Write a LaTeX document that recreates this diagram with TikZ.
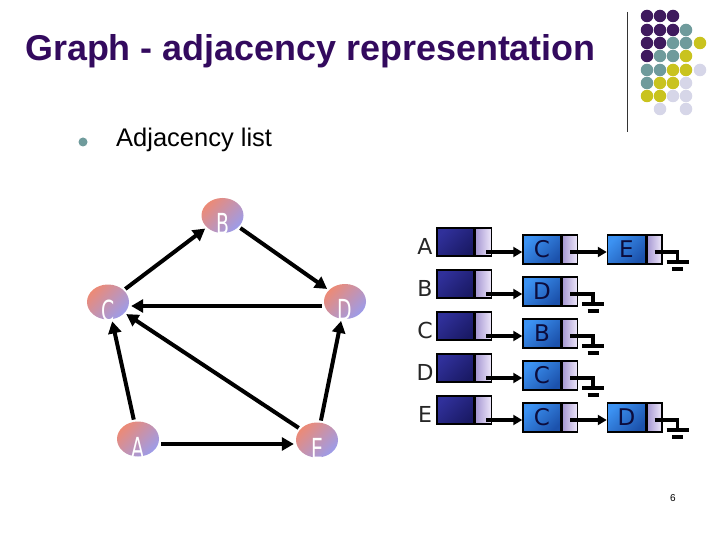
\documentclass[tikz,border=0pt]{standalone}
\usepackage{fontspec}
\setmainfont{Liberation Sans}
\newfontfamily\lettfont{DejaVu Sans}
\usetikzlibrary{shapes.geometric,arrows.meta}
\definecolor{titlepurple}{HTML}{330A5E}
\definecolor{dpurple}{HTML}{3F1A5E}
\definecolor{dteal}{HTML}{6F9B9C}
\definecolor{dyellow}{HTML}{C9C31E}
\definecolor{dlav}{HTML}{D6D6E8}
\definecolor{salmon}{HTML}{EC8A76}
\definecolor{pinklav}{HTML}{9C9CEA}
\definecolor{headtop}{HTML}{30309A}
\definecolor{headbot}{HTML}{1A1A66}
\definecolor{bluetop}{HTML}{3C92F2}
\definecolor{bluebot}{HTML}{1C52AC}
\definecolor{lavleft}{HTML}{A698D2}
\definecolor{lavright}{HTML}{EEE8FA}
\definecolor{navytext}{HTML}{0C0C3C}
\newcommand{\glet}[1]{\smash{\raisebox{-19pt}{\scalebox{0.65}[1]{#1}}}}
\tikzset{
  gnode/.style={ellipse, minimum width=42pt, minimum height=35pt, inner sep=0pt,
    top color=salmon, bottom color=pinklav, shading angle=45,
    text=white, font=\lettfont\fontsize{29}{32}\selectfont},
  garr/.style={line width=4pt, -{Triangle[length=12pt,width=13pt]}, shorten >=2pt, shorten <=2pt},
  headbox/.style={rectangle, draw=black, line width=1.5pt, minimum width=37pt, minimum height=28pt, inner sep=0pt,
    top color=headtop, bottom color=headbot, shading angle=45},
  bluebox/.style={rectangle, draw=black, line width=1.5pt, minimum width=38pt, minimum height=29pt, inner sep=0pt,
    top color=bluetop, bottom color=bluebot, shading angle=45,
    text=navytext, font=\lettfont\fontsize{23}{26}\selectfont},
  lavbox/.style={rectangle, draw=black, line width=1.5pt, minimum width=16pt, inner sep=0pt,
    left color=lavleft, right color=lavright},
  rowlabel/.style={font=\lettfont\fontsize{22}{26}\selectfont, text=black!85},
  larr/.style={line width=3.2pt, -{Triangle[length=9pt,width=10pt]}},
  gnd/.style={line width=3.2pt},
  dot/.style={circle, inner sep=0pt, minimum size=12.5pt},
}
\begin{document}
\begin{tikzpicture}[x=1pt,y=-1pt]
\useasboundingbox (0,0) rectangle (720,540);
\fill[white] (0,0) rectangle (720,540);

% title
\node[anchor=west, inner sep=0pt, text=titlepurple, font=\bfseries\fontsize{35.9}{40}\selectfont] (title) at (25,51) {Graph - adjacency representation};

% decorative dots and line
\draw[line width=1pt, black!80] (627,12) -- (627,132);
\foreach \x/\y/\c in {
  647/16/dpurple, 660/16/dpurple, 673/16/dpurple,
  647/30/dpurple, 660/30/dpurple, 673/30/dpurple, 686/30/dteal,
  647/43/dpurple, 660/43/dpurple, 673/43/dteal, 686/43/dteal, 700/43/dyellow,
  647/56/dpurple, 660/56/dteal, 673/56/dteal, 686/56/dyellow,
  647/70/dteal, 660/70/dteal, 673/70/dyellow, 686/70/dyellow, 700/70/dlav,
  647/83/dteal, 660/83/dyellow, 673/83/dyellow, 686/83/dlav,
  647/96/dyellow, 660/96/dyellow, 673/96/dlav, 686/96/dlav,
  660/109/dlav, 686/109/dlav}
  \node[dot, fill=\c] at (\x,\y) {};

% bullet
\node[circle, fill=dteal, inner sep=0pt, minimum size=9pt] (bul) at (83,142) {};
\node[anchor=west, inner sep=0pt, font=\fontsize{25.5}{30}\selectfont] (sub) at (116,140) {Adjacency list};

% graph
\node[gnode] (B) at (222.5,215.5) {\glet{B}};
\node[gnode] (C) at (108,302) {\glet{C}};
\node[gnode] (D) at (345,301.5) {\glet{D}};
\node[gnode] (A) at (138,439) {\glet{A}};
\node[gnode] (E) at (317,440) {\glet{E}};
\draw[garr] (C) -- (B);
\draw[garr] (B) -- (D);
\draw[garr] (D.west |- 0,306) -- (C.east |- 0,306);
\draw[garr] (E) -- (C);
\draw[garr] (A) -- (C);
\draw[garr] (A.east |- 0,444) -- (E.west |- 0,444);
\draw[garr] (E) -- (D);

% adjacency lists
\foreach \r/\lab/\y in {1/A/252, 2/B/294, 3/C/336, 4/D/378, 5/E/420}{
  \node[rowlabel] (L\r) at (425,\y-6) {\lab};
  \node[headbox] (h\r) at (455.5,\y-10) {};
  \node[lavbox, anchor=west, minimum height=28pt] (hp\r) at (h\r.east) {};
  \coordinate (p\r) at (486,\y);
}
% second column
\node[bluebox] (s1) at (542,249.5) {C};
\node[bluebox] (s2) at (542,291.5) {D};
\node[bluebox] (s3) at (542,333.5) {B};
\node[bluebox] (s4) at (542,375.5) {C};
\node[bluebox] (s5) at (542,417.5) {C};
\foreach \r in {1,...,5}{
  \node[lavbox, anchor=west, minimum height=29pt, minimum width=15pt] (sp\r) at (s\r.east) {};
  \draw[larr] (p\r) -- (p\r -| s\r.west);
  \coordinate (q\r) at (p\r -| sp\r.center);
}
% third column
\node[bluebox] (t1) at (626.5,249.5) {E};
\node[bluebox] (t5) at (626.5,417.5) {D};
\node[lavbox, anchor=west, minimum height=29pt, minimum width=15pt] (tp1) at (t1.east) {};
\node[lavbox, anchor=west, minimum height=29pt, minimum width=15pt] (tp5) at (t5.east) {};
\draw[larr] (q1) -- (q1 -| t1.west);
\draw[larr] (q5) -- (q5 -| t5.west);
\coordinate (u1) at (q1 -| tp1.center);
\coordinate (u5) at (q5 -| tp5.center);

% null terminators
\foreach \g in {u1,q2,q3,q4,u5}{
  \draw[gnd] (\g) -- ++(23,0) -- ++(0,11.5);
  \draw[gnd] ([xshift=12pt,yshift=-10pt]\g) -- ++(22,0);
  \draw[gnd] ([xshift=17.5pt,yshift=-17pt]\g) -- ++(11,0);
}

% page number
\node[font=\fontsize{10}{12}\selectfont] (pg) at (673,498) {6};
\end{tikzpicture}
\end{document}
